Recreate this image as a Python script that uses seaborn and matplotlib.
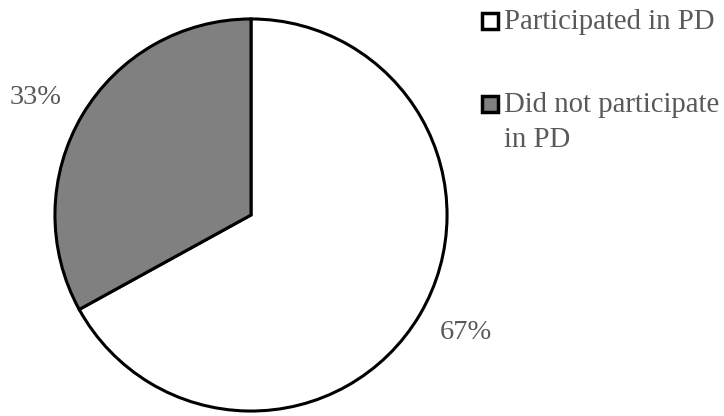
import numpy as np
import seaborn as sns
import matplotlib.pyplot as plt
from matplotlib.lines import Line2D

labels = ["Participated in PD", "Did not participate\nin PD"]
shares = [67, 33]
colors = ["#ffffff", "#808080"]

sns.set_theme(style="white")
plt.rcParams["font.family"] = ["Liberation Serif", "DejaVu Serif"]
txt = "#595959"

W, H = 724, 416
fig = plt.figure(figsize=(W / 100, H / 100), dpi=100)
ax = fig.add_axes([53 / W, 3 / H, 396 / W, 396 / H])

wedges, texts, autotexts = ax.pie(
    shares,
    colors=colors,
    startangle=90,
    counterclock=False,
    autopct="%1.0f%%",
    pctdistance=1.25,
    wedgeprops=dict(edgecolor="black", linewidth=2.2),
    textprops=dict(fontsize=20.5, color=txt),
)
# labels sit a touch counter-clockwise of the wedge middle in the original
for w, t in zip(wedges, autotexts):
    ang = np.deg2rad((w.theta1 + w.theta2) / 2 + 2)
    t.set_position((1.25 * np.cos(ang), 1.25 * np.sin(ang)))
ax.set_xlim(-1.01, 1.01)
ax.set_ylim(-1.01, 1.01)
ax.set_aspect("equal")

# legend drawn by hand so the marker sits on the first line of a wrapped label
rows_y = [21, 104]
for lab, col, y in zip(labels, colors, rows_y):
    fig.add_artist(Line2D([490 / W], [1 - y / H], marker="s", markersize=11.5,
                          markerfacecolor=col, markeredgecolor="black",
                          markeredgewidth=2.5, transform=fig.transFigure))
    for i, line in enumerate(lab.split("\n")):
        fig.text(504 / W, 1 - (y + 8 + 35 * i) / H, line, fontsize=20.7,
                 color=txt, va="baseline", ha="left")

fig.savefig("out.png", dpi=100)
